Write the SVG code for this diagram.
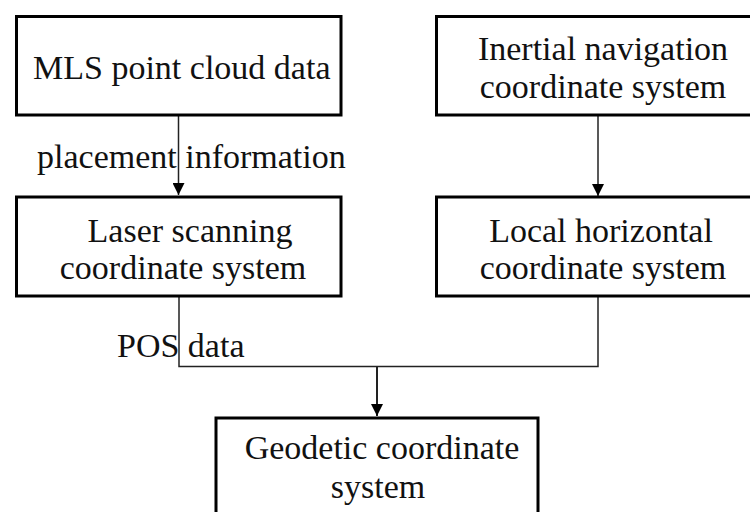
<svg xmlns="http://www.w3.org/2000/svg" width="750" height="512" viewBox="0 0 750 512">
  <style>
    .box { fill: #ffffff; stroke: #000000; stroke-width: 3; }
    .lbl { font-size: 34px; fill: #111111; }
    .mid { text-anchor: middle; }
    .wire { fill: none; stroke: #222222; stroke-width: 1.5; }
  </style>
  <defs>
    <marker id="arrow" viewBox="0 0 12 12" refX="12" refY="6" markerWidth="12" markerHeight="12" markerUnits="userSpaceOnUse" orient="auto">
      <path d="M0,0 L12,6 L0,12 Z" fill="#000000"/>
    </marker>
  </defs>

  <rect width="750" height="512" fill="#ffffff"/>

  <g id="connectors">
    <line class="wire" x1="178.5" y1="115" x2="178.5" y2="195" marker-end="url(#arrow)"/>
    <line class="wire" x1="598" y1="115" x2="598" y2="196" marker-end="url(#arrow)"/>
    <polyline class="wire" points="179,296 179,366.5 598,366.5 598,296"/>
    <line class="wire" x1="377" y1="366.5" x2="377" y2="416" marker-end="url(#arrow)" style="stroke-width:2"/>
  </g>

  <g font-family="Liberation Serif, Tinos, Times New Roman, serif">
    <g id="mls">
      <rect class="box" x="16.5" y="16.5" width="324.5" height="98.5"/>
      <text class="lbl" x="33" y="79">MLS point cloud data</text>
    </g>

    <g id="inertial">
      <rect class="box" x="436.5" y="16.5" width="330" height="98.5"/>
      <text class="lbl mid" x="603" y="60">Inertial navigation</text>
      <text class="lbl mid" x="603" y="98">coordinate system</text>
    </g>

    <g id="placement-label">
      <text class="lbl" x="37" y="168">placement information</text>
    </g>

    <g id="laser">
      <rect class="box" x="16.5" y="197" width="324.5" height="99"/>
      <text class="lbl mid" x="190" y="242">Laser scanning</text>
      <text class="lbl mid" x="183" y="279">coordinate system</text>
    </g>

    <g id="local">
      <rect class="box" x="436.5" y="197" width="330" height="99"/>
      <text class="lbl mid" x="601" y="242">Local horizontal</text>
      <text class="lbl mid" x="603" y="279">coordinate system</text>
    </g>

    <g id="pos-label">
      <text class="lbl" x="117" y="357">POS data</text>
    </g>

    <g id="geodetic">
      <rect class="box" x="216" y="418" width="322" height="110"/>
      <text class="lbl mid" x="382" y="459">Geodetic coordinate</text>
      <text class="lbl mid" x="378" y="498">system</text>
    </g>
  </g>
</svg>
